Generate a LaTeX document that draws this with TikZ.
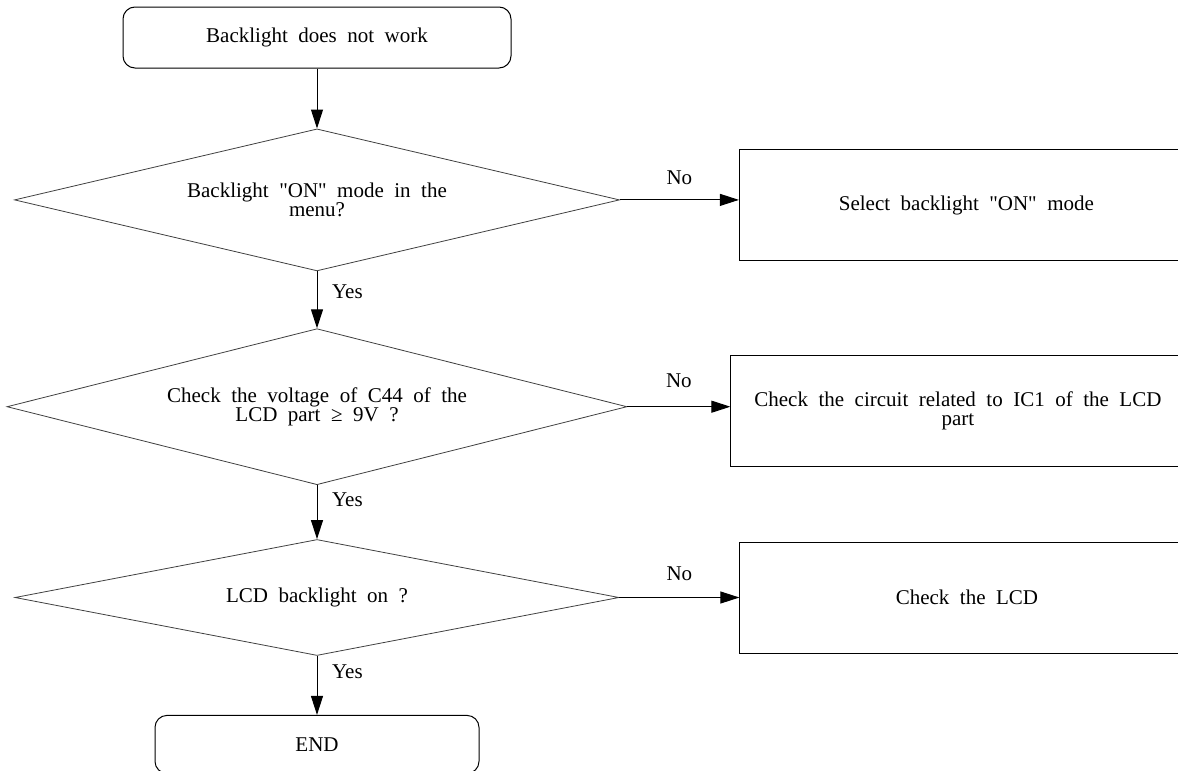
\documentclass[tikz,border=0pt]{standalone}
\usepackage{fontspec}
\setmainfont{Liberation Serif}
\usetikzlibrary{positioning,shapes.geometric,arrows.meta}
\tikzset{term/.style={rectangle,rounded corners=6pt,draw,line width=0.5pt,minimum width=194pt,minimum height=30.5pt,inner sep=0pt},
	 test/.style={diamond,draw=black!75,line width=0.4pt,inner sep=0pt,align=center},
	 fix/.style={rectangle,draw,line width=0.5pt,minimum width=227pt,minimum height=55.5pt,inner sep=0pt,align=center},
	 flow/.style={-{Triangle[length=9.5pt,width=6pt]},line width=0.5pt},
	 node distance = 28pt
	 }

\begin{document}
\begin{tikzpicture}[font={\fontsize{10.5}{9.5}\selectfont\spaceskip=0.5em}] % backlight trouble flow
	\useasboundingbox (0,0) rectangle (589pt,-385.5pt);
	\node[term] (s) at (158.5pt,-18.75pt) {Backlight does not work};
	\node[test,aspect=4.26,minimum width=302.5pt,minimum height=71pt] (d1) [below=30pt of s] {Backlight \textquotedbl ON\textquotedbl{} mode in the\\menu?};
	\node[test,aspect=3.97,minimum width=310pt,minimum height=78pt] (d2) [below=28.5pt of d1] {Check the voltage of C44 of the\\LCD part ≥ 9V ?};
	\node[test,aspect=5.2,minimum width=302pt,minimum height=58pt] (d3) [below=27pt of d2] {LCD backlight on ?};
	\node[term,minimum width=162pt,minimum height=29pt] (e) [below=29.5pt of d3] {END};
	\node[fix] (b1) [right=59.5pt of d1,yshift=-2.75pt,xshift=0pt] {Select backlight \textquotedbl ON\textquotedbl{} mode};
	\node[fix] (b2) [right=51.5pt of d2,yshift=-2pt] {Check the circuit related to IC1 of the LCD\\part};
	\node[fix] (b3) [right=60pt of d3] {Check the LCD};
	\draw[flow] (s) to (d1);
	\draw[flow] (d1) to node[pos=0.35,right=4pt] {Yes} (d2);
	\draw[flow] (d2) to node[pos=0.27,right=4pt] {Yes} (d3);
	\draw[flow] (d3) to node[pos=0.27,right=4pt] {Yes} (e);
	\draw[flow] (d1.east) to node[midway,above=4pt] {No} (d1.east -| b1.west);
	\draw[flow] (d2.east) to node[midway,above=6pt] {No} (d2.east -| b2.west);
	\draw[flow] (d3.east) to node[midway,above=5pt] {No} (d3.east -| b3.west);
\end{tikzpicture}
\end{document}
